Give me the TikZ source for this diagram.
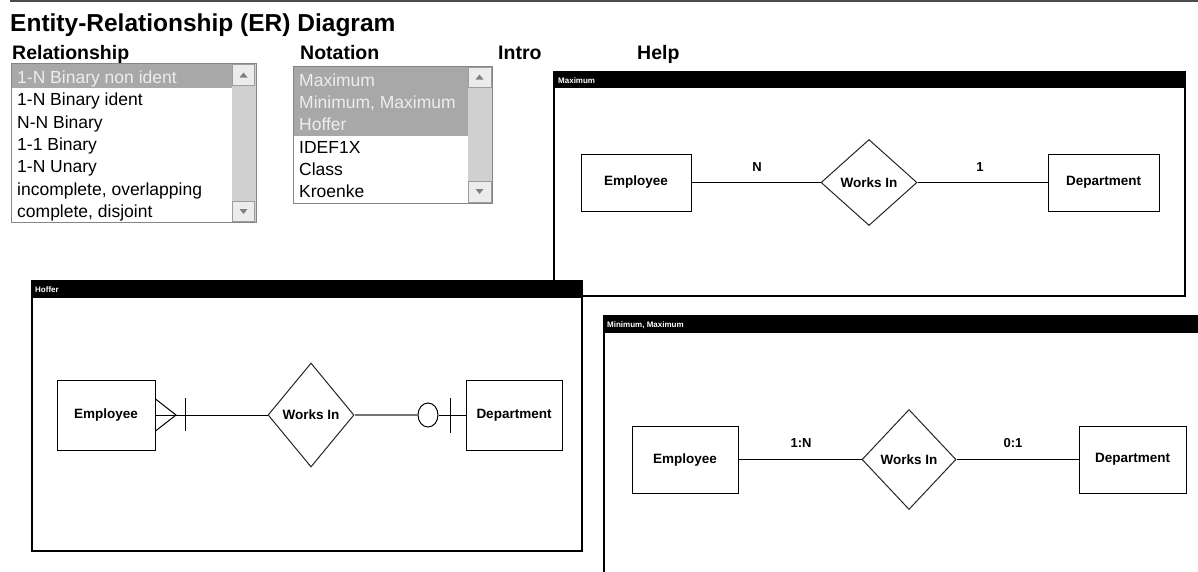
\documentclass[tikz,border=0pt]{standalone}
\usepackage{fontspec}
\setmainfont{Liberation Sans}
\usetikzlibrary{shapes.geometric,calc}
\definecolor{selgray}{HTML}{A8A8A8}
\definecolor{seltext}{HTML}{EDEDED}
\definecolor{trackgray}{HTML}{D0D0D0}
\definecolor{btngray}{HTML}{ECECEC}
\definecolor{framegray}{HTML}{858585}
\tikzset{
  ent/.style={draw=black, line width=1pt, fill=white, inner sep=0pt,
    font=\fontsize{13.5}{16}\selectfont\bfseries},
  rel/.style={diamond, draw=black!85, line width=1pt, fill=white, inner sep=0pt,
    font=\fontsize{13.5}{16}\selectfont\bfseries},
  card/.style={inner sep=0pt, font=\fontsize{13}{15}\selectfont\bfseries},
  conn/.style={line width=1pt, draw=black},
  listitem/.style={anchor=base west, inner sep=0pt, font=\fontsize{17.5}{20}\selectfont},
  selitem/.style={listitem, text=seltext},
  hdr/.style={anchor=base west, inner sep=0pt, font=\fontsize{19.5}{22}\selectfont\bfseries},
  wintitle/.style={anchor=base west, inner sep=0pt, text=white,
    font=\fontsize{8}{9}\selectfont\bfseries},
  winframe/.style={draw=black, line width=1.2pt, fill=white},
  titlebar/.style={fill=black},
  listframe/.style={draw=framegray, line width=1pt, fill=white},
  selrow/.style={fill=selgray},
  track/.style={fill=trackgray},
  sbtn/.style={draw=framegray!80, fill=btngray, line width=0.8pt},
  sarrow/.style={fill=gray},
}
\begin{document}
\begin{tikzpicture}[x=1pt,y=-1pt]
\clip (0,0) rectangle (1198,571);
\fill[white] (0,0) rectangle (1198,571);
% top rule
\draw[line width=2pt, black!70] (10,1) -- (1198,1);
% title and headers
\node[anchor=base west, inner sep=0pt, font=\fontsize{24.5}{28}\selectfont\bfseries] (title) at (10,31) {Entity-Relationship (ER) Diagram};
\node[hdr] (hrel) at (12,59) {Relationship};
\node[hdr] (hnot) at (300,59) {Notation};
\node[hdr] (hint) at (498,59) {Intro};
\node[hdr] (hhelp) at (637,59) {Help};

% Relationship list box
\draw[listframe] (11,63) rectangle (256,222);
\fill[selrow] (11.5,63.5) rectangle (232,88);
\fill[track] (232,63.5) rectangle (255.5,221.5);
\draw[sbtn] (232.5,64.5) rectangle (254.5,85);
\draw[sbtn] (232.5,201) rectangle (254.5,221.5);
\fill[sarrow] (239.5,77.5) -- (247.5,77.5) -- (243.5,72.5) -- cycle;
\fill[sarrow] (239.5,209) -- (247.5,209) -- (243.5,214) -- cycle;
\node[selitem] (r1) at (17,83.5) {1-N Binary non ident};
\node[listitem] (r2) at (17,105.8) {1-N Binary ident};
\node[listitem] (r3) at (17,128.1) {N-N Binary};
\node[listitem] (r4) at (17,150.4) {1-1 Binary};
\node[listitem] (r5) at (17,172.7) {1-N Unary};
\node[listitem] (r6) at (17,195.0) {incomplete, overlapping};
\node[listitem] (r7) at (17,217.3) {complete, disjoint};

% Notation list box
\draw[listframe] (293,66) rectangle (492,203);
\fill[selrow] (293.5,66.5) rectangle (468,135.5);
\fill[track] (468,66.5) rectangle (491.5,202.5);
\draw[sbtn] (468.5,67) rectangle (491,87);
\draw[sbtn] (468.5,181) rectangle (491,202);
\fill[sarrow] (475.5,79.5) -- (483.5,79.5) -- (479.5,74.5) -- cycle;
\fill[sarrow] (475.5,189) -- (483.5,189) -- (479.5,194) -- cycle;
\node[selitem] (n1) at (299,86.5) {Maximum};
\node[selitem] (n2) at (299,108.7) {Minimum, Maximum};
\node[selitem] (n3) at (299,130.9) {Hoffer};
\node[listitem] (n4) at (299,153.1) {IDEF1X};
\node[listitem] (n5) at (299,175.3) {Class};
\node[listitem] (n6) at (299,197.5) {Kroenke};

% ===== Maximum window =====
\draw[winframe] (554,72) rectangle (1185,296);
\fill[titlebar] (554,72) rectangle (1185,88);
\node[wintitle] (tmax) at (558,83) {Maximum};
\node[ent, minimum width=110, minimum height=57] (me) at (636,182.5) {Employee};
\node[rel, minimum width=96, minimum height=86] (mr) at (869,182.5) {Works In};
\node[ent, minimum width=111, minimum height=57] (md) at (1103.5,182.5) {Department};
\draw[conn] (me.east) -- (mr.west);
\draw[conn] (mr.east) -- (md.west);
\node[card] (mlN) at (757,167) {N};
\node[card] (ml1) at (980,167) {1};

% ===== Hoffer window (drawn over Maximum) =====
\draw[winframe] (32,281) rectangle (582,551);
\fill[titlebar] (32,281) rectangle (582,298);
\node[wintitle] (thof) at (35,292) {Hoffer};
\node[ent, minimum width=98, minimum height=70] (he) at (106,415) {Employee};
\node[rel, minimum width=86, minimum height=104] (hr) at (311,415) {Works In};
\node[ent, minimum width=96, minimum height=70] (hd) at (514,415) {Department};
\coordinate (cf) at (176,415);
\node[ellipse, draw=black, line width=1pt, minimum width=20, minimum height=24, inner sep=0pt] (hc) at (428,415) {};
\draw[conn] (he.east) -- (hr.west);
\draw[conn] ($(he.east)+(0,-16)$) -- (cf) -- ($(he.east)+(0,16)$);
\draw[conn] (185.5,398) -- (185.5,431);
\draw[line width=1.6pt, black!55] (hr.east) -- (hc.west);
\draw[conn] (hc.east) -- (hd.west);
\draw[conn] (450,398) -- (450,433);

% ===== Minimum, Maximum window =====
\draw[winframe] (604,316) rectangle (1210,590);
\fill[titlebar] (604,316) rectangle (1210,333);
\node[wintitle] (tmm) at (607,327) {Minimum, Maximum};
\node[ent, minimum width=106, minimum height=67] (ne) at (685,459.5) {Employee};
\node[rel, minimum width=94, minimum height=100] (nr) at (909,459.5) {Works In};
\node[ent, minimum width=107, minimum height=67] (nd) at (1132.5,459.5) {Department};
\draw[conn] (ne.east) -- (nr.west);
\draw[conn] (nr.east) -- (nd.west);
\node[card] (nl1) at (801,443) {1:N};
\node[card] (nl2) at (1013,443) {0:1};
\end{tikzpicture}
\end{document}
